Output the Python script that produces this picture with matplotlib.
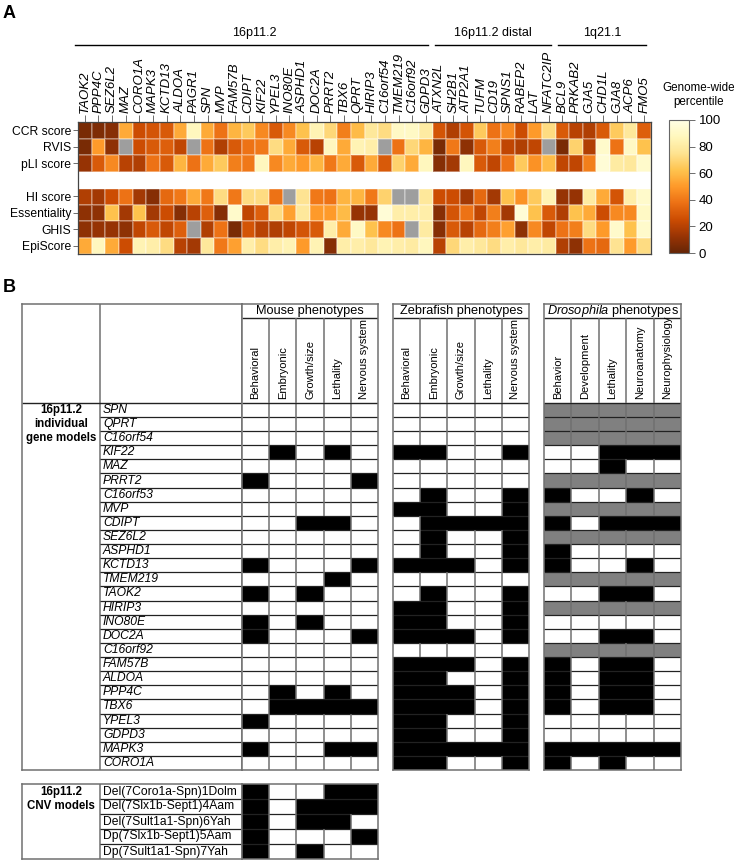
import numpy as np
import matplotlib.pyplot as plt
from matplotlib.colors import ListedColormap
from matplotlib.collections import LineCollection

plt.rcParams['font.family'] = ['Liberation Sans', 'DejaVu Sans']
plt.rcParams['mathtext.fontset'] = 'custom'
plt.rcParams['mathtext.it'] = 'Liberation Sans:italic'
plt.rcParams['mathtext.rm'] = 'Liberation Sans'

nan = np.nan

# ---------------- panel A data ----------------
genes_a = ['TAOK2', 'PPP4C', 'SEZ6L2', 'MAZ', 'CORO1A', 'MAPK3', 'KCTD13', 'ALDOA',
           'PAGR1', 'SPN', 'MVP', 'FAM57B', 'CDIPT', 'KIF22', 'YPEL3', 'INO80E',
           'ASPHD1', 'DOC2A', 'PRRT2', 'TBX6', 'QPRT', 'HIRIP3', 'C16orf54',
           'TMEM219', 'C16orf92', 'GDPD3',
           'ATXN2L', 'SH2B1', 'ATP2A1', 'TUFM', 'CD19', 'SPNS1', 'RABEP2', 'LAT',
           'NFATC2IP',
           'BCL9', 'PRKAB2', 'GJA5', 'CHD1L', 'GJA8', 'ACP6', 'FMO5']
region_names = ['16p11.2', '16p11.2 distal', '1q21.1']
region_sizes = [26, 9, 7]

rows_top = ['CCR score', 'RVIS', 'pLI score']
rows_bottom = ['HI score', 'Essentiality', 'GHIS', 'EpiScore']

ccr = [5, 6, 8, 55, 25, 28, 30, 55, 88, 55, 38, 58, 65, 45, 30, 45, 62, 85, 70, 42, 60,
       78, 72, 90, 90, 80, 28, 18, 28, 65, 38, 45, 25, 50, 72, 30, 20, 18, 30, 65, 78, 32]
rvis = [5, 50, 10, nan, 25, 30, 32, 22, nan, 38, 18, 30, 38, 40, 72, 55, 30, 20, 88, 55, 85,
        82, nan, 38, 70, 58, 5, 40, 10, 30, 42, 22, 18, 22, nan, 5, 68, 18, 92, 38, 90, 62]
pli = [12, 30, 45, 20, 18, 38, 30, 58, 38, 55, 65, 42, 40, 88, 45, 55, 50, 58, 40, 55, 30,
       55, 30, 68, 55, 88, 8, 15, 88, 30, 22, 38, 65, 48, 60, 22, 22, 42, 95, 80, 78, 92]
hi = [18, 15, 25, 38, 15, 8, 35, 40, 55, 40, 72, 40, 72, 72, 38, nan, 75, 40, 38, 58, 58,
      40, 68, nan, nan, 78, 25, 25, 15, 35, 15, 62, 48, 65, 85, 12, 12, 80, 55, 28, 82, 92]
ess = [10, 10, 62, 15, 62, 15, 25, 8, 20, 32, 8, 92, 22, 32, 72, 52, 78, 50, 50, 60, 12,
       12, 95, 82, 82, 82, 8, 28, 38, 22, 42, 15, 95, 62, 30, 18, 62, 55, 25, 45, 45, 90]
ghis = [10, 12, 12, 10, 22, 30, 22, 32, nan, 18, 38, 5, 28, 20, 18, 22, 28, 30, 82, 55, 90,
        62, 45, 38, nan, 80, 8, 30, 20, 35, 42, 52, 10, 45, 22, 38, 42, 72, 50, 92, 62, 92]
epi = [55, 88, 55, 25, 85, 82, 72, 20, 15, 78, 40, 52, 82, 72, 82, 85, 50, 85, 8, 82, 82,
       78, 85, 82, 80, 88, 20, 70, 82, 78, 72, 82, 78, 82, 80, 18, 10, 38, 35, 75, 50, 72]

# ---------------- panel B data ----------------
# 0 = no phenotype, 1 = phenotype, 2 = no model
genes_b = ['SPN', 'QPRT', 'C16orf54', 'KIF22', 'MAZ', 'PRRT2', 'C16orf53', 'MVP', 'CDIPT',
           'SEZ6L2', 'ASPHD1', 'KCTD13', 'TMEM219', 'TAOK2', 'HIRIP3', 'INO80E', 'DOC2A',
           'C16orf92', 'FAM57B', 'ALDOA', 'PPP4C', 'TBX6', 'YPEL3', 'GDPD3', 'MAPK3',
           'CORO1A']
mouse_cols = ['Behavioral', 'Embryonic', 'Growth/size', 'Lethality', 'Nervous system']
fish_cols = ['Behavioral', 'Embryonic', 'Growth/size', 'Lethality', 'Nervous system']
fly_cols = ['Behavior', 'Development', 'Lethality', 'Neuroanatomy', 'Neurophysiology']

mouse = [[0, 0, 0, 0, 0], [0, 0, 0, 0, 0], [0, 0, 0, 0, 0], [0, 1, 0, 1, 0],
         [0, 0, 0, 0, 0], [1, 0, 0, 0, 1], [0, 0, 0, 0, 0], [0, 0, 0, 0, 0],
         [0, 0, 1, 1, 0], [0, 0, 0, 0, 0], [0, 0, 0, 0, 0], [1, 0, 0, 0, 1],
         [0, 0, 0, 1, 0], [1, 0, 1, 0, 0], [0, 0, 0, 0, 0], [1, 0, 1, 0, 0],
         [1, 0, 0, 0, 1], [0, 0, 0, 0, 0], [0, 0, 0, 0, 0], [0, 0, 0, 0, 0],
         [0, 1, 0, 1, 0], [0, 1, 1, 1, 1], [1, 0, 0, 0, 0], [0, 0, 0, 0, 0],
         [1, 0, 0, 1, 1], [0, 0, 0, 0, 0]]
fish = [[0, 0, 0, 0, 0], [0, 0, 0, 0, 0], [0, 0, 0, 0, 0], [1, 1, 0, 0, 1],
        [0, 0, 0, 0, 0], [0, 0, 0, 0, 0], [0, 1, 0, 0, 1], [1, 1, 0, 0, 1],
        [0, 1, 1, 1, 1], [0, 1, 0, 0, 1], [0, 1, 0, 0, 1], [1, 1, 1, 0, 1],
        [0, 0, 0, 0, 0], [0, 1, 0, 0, 1], [1, 1, 0, 0, 1], [1, 1, 0, 0, 1],
        [1, 1, 1, 0, 1], [0, 0, 0, 0, 0], [1, 1, 1, 0, 1], [1, 1, 0, 0, 1],
        [1, 1, 1, 0, 1], [1, 1, 1, 0, 1], [1, 1, 0, 0, 1], [1, 1, 0, 0, 1],
        [1, 1, 1, 1, 1], [1, 1, 0, 0, 1]]
fly = [[2, 2, 2, 2, 2], [2, 2, 2, 2, 2], [2, 2, 2, 2, 2], [0, 0, 1, 1, 1],
       [0, 0, 1, 0, 0], [2, 2, 2, 2, 2], [1, 0, 0, 1, 0], [2, 2, 2, 2, 2],
       [1, 0, 1, 1, 1], [2, 2, 2, 2, 2], [1, 0, 0, 0, 0], [1, 0, 0, 1, 0],
       [2, 2, 2, 2, 2], [0, 0, 1, 1, 0], [2, 2, 2, 2, 2], [0, 0, 0, 0, 0],
       [0, 0, 1, 1, 0], [2, 2, 2, 2, 2], [1, 0, 1, 1, 0], [1, 0, 1, 1, 0],
       [1, 0, 1, 1, 0], [1, 0, 1, 1, 0], [0, 0, 0, 0, 0], [0, 0, 0, 0, 0],
       [1, 1, 1, 1, 1], [1, 0, 1, 0, 0]]

cnv_models = ['Del(7Coro1a-Spn)1Dolm', 'Del(7Slx1b-Sept1)4Aam', 'Del(7Sult1a1-Spn)6Yah',
              'Dp(7Slx1b-Sept1)5Aam', 'Dp(7Sult1a1-Spn)7Yah']
cnv_mouse = [[1, 0, 0, 1, 1], [1, 0, 1, 1, 1], [1, 0, 1, 1, 0], [1, 0, 0, 0, 1],
             [1, 0, 1, 0, 0]]

# ---------------- figure ----------------
W, H = 736, 861
fig = plt.figure(figsize=(W / 100, H / 100), dpi=100)


def px_axes(x, y, w, h):
    return fig.add_axes([x / W, 1 - (y + h) / H, w / W, h / H])


fig.text(3 / W, 1 - 5 / H, 'A', fontsize=13, fontweight='bold', va='top')
fig.text(3 / W, 1 - 279 / H, 'B', fontsize=13, fontweight='bold', va='top')

# heatmap
n = len(genes_a)
cmap = plt.get_cmap('YlOrBr_r').copy()
cmap.set_bad('#9e9e9e')
ax = px_axes(78, 122, 573, 132)
ax.set_facecolor('#9e9e9e')
top = np.ma.masked_invalid(np.array([ccr, rvis, pli], dtype=float))
bot = np.ma.masked_invalid(np.array([hi, ess, ghis, epi], dtype=float))
xe = np.arange(n + 1)
ax.pcolormesh(xe, np.arange(len(rows_top) + 1), top, cmap=cmap, vmin=0, vmax=100,
              edgecolors=(1, 1, 1, 0.25), linewidth=0.3)
mesh = ax.pcolormesh(xe, np.arange(len(rows_top) + 1, len(rows_top) + len(rows_bottom) + 2),
                     bot, cmap=cmap, vmin=0, vmax=100,
                     edgecolors=(1, 1, 1, 0.25), linewidth=0.3)
ax.axhspan(len(rows_top), len(rows_top) + 1, color='white', zorder=2)
ax.set_xlim(0, n)
ax.set_ylim(len(rows_top) + len(rows_bottom) + 1, 0)
ax.xaxis.tick_top()
ax.set_xticks(np.arange(n) + 0.5)
ax.set_xticklabels(genes_a, rotation=90, fontstyle='italic', fontsize=9.5)
yt = list(np.arange(len(rows_top)) + 0.5) + list(np.arange(len(rows_bottom)) + len(rows_top) + 1.5)
ax.set_yticks(yt)
ax.set_yticklabels(rows_top + rows_bottom, fontsize=8.7)
ax.tick_params(axis='x', length=5, width=0.6, color='#555555', pad=1.5)
ax.tick_params(axis='y', length=3.5, width=0.6, color='#555555', pad=1.5)
for s in ax.spines.values():
    s.set_color('#444444')
    s.set_linewidth(0.9)
    s.set_zorder(5)

# region brackets
axr = px_axes(78, 20, 573, 28)
axr.set_xlim(0, n)
axr.set_ylim(48, 20)
axr.axis('off')
start = 0
for name, size in zip(region_names, region_sizes):
    axr.plot([start + (-0.2 if start == 0 else 0.15), start + size - 0.35], [45, 45],
             color='black', lw=1.0, clip_on=False)
    axr.text(start + size / 2 - 0.1, 33, name, ha='center', va='center', fontsize=9)
    start += size

# colorbar
cax = px_axes(669, 120, 20, 133)
cb = fig.colorbar(mesh, cax=cax, ticks=[0, 20, 40, 60, 80, 100])
cb.outline.set_edgecolor('#666666')
cb.outline.set_linewidth(0.8)
cax.tick_params(labelsize=9.5, length=4, width=0.6, color='#555555', pad=3)
fig.text(699 / W, 1 - 95 / H, 'Genome-wide\npercentile', ha='center', va='center',
         fontsize=8.4, linespacing=1.3)

# ---------------- panel B ----------------
nb = len(genes_b)
hdr = 7
cell_cmap = ListedColormap(['white', 'black', '#808080'])
vcol = '#707070'
hcol = '#222222'


def style_frame(a):
    a.set_xticks([])
    a.set_yticks([])
    for s in a.spines.values():
        s.set_color(vcol)
        s.set_linewidth(1.1)


def pheno_block(a, data, cols, title, nrows, header=True):
    data = np.array(data)
    ncol = data.shape[1]
    a.pcolormesh(np.arange(ncol + 1), np.arange(nrows + 1), data, cmap=cell_cmap,
                 vmin=0, vmax=2)
    a.set_xlim(0, ncol)
    a.set_ylim(nrows, -hdr if header else 0)
    # horizontal row lines
    a.hlines(np.arange(1, nrows), 0, ncol, color=hcol, lw=0.9)
    # vertical lines, skipped inside black runs
    segs = []
    for r in range(nrows):
        for c in range(1, ncol):
            if not (data[r, c - 1] == 1 and data[r, c] == 1):
                segs.append([(c, r), (c, r + 1)])
    a.add_collection(LineCollection(segs, colors=vcol, linewidths=1.1))
    style_frame(a)
    if header:
        a.hlines([0], 0, ncol, color=hcol, lw=1.0)
        a.hlines([-hdr + 1], 0, ncol, color=hcol, lw=1.0)
        a.vlines(np.arange(1, ncol), -hdr + 1, 0, color=vcol, lw=1.1)
        a.text(ncol / 2, -hdr + 0.5, title, ha='center', va='center', fontsize=9.2)
        for i, c in enumerate(cols):
            a.text(i + 0.5, -0.25, c, rotation=90, ha='center', va='bottom', fontsize=8)


# left label block
axl = px_axes(22, 304, 220, 466)
axl.set_xlim(0, 220)
axl.set_ylim(nb, -hdr)
style_frame(axl)
axl.vlines([78], -hdr, nb, color=vcol, lw=1.1)
axl.hlines([0], 0, 220, color=hcol, lw=1.0)
axl.hlines(np.arange(1, nb), 78, 220, color=hcol, lw=0.9)
axl.text(39, 1.5, '16p11.2\nindividual\ngene models', ha='center', va='center',
         fontsize=8.3, fontweight='bold', linespacing=1.25)
for i, g in enumerate(genes_b):
    axl.text(81, i + 0.5, g, va='center', ha='left', fontsize=8.7, fontstyle='italic')

pheno_block(px_axes(242, 304, 136, 466), mouse, mouse_cols, 'Mouse phenotypes', nb)
pheno_block(px_axes(393, 304, 136, 466), fish, fish_cols, 'Zebrafish phenotypes', nb)
pheno_block(px_axes(544, 304, 137, 466), fly, fly_cols,
            r'$\mathit{Drosophila}$ phenotypes', nb)

# CNV models
nc = len(cnv_models)
axc = px_axes(22, 784, 220, 75)
axc.set_xlim(0, 220)
axc.set_ylim(nc, 0)
style_frame(axc)
axc.vlines([78], 0, nc, color=vcol, lw=1.1)
axc.hlines(np.arange(1, nc), 78, 220, color=hcol, lw=0.9)
axc.text(39, 1.0, '16p11.2\nCNV models', ha='center', va='center', fontsize=8.3,
         fontweight='bold', linespacing=1.25)
for i, g in enumerate(cnv_models):
    axc.text(81, i + 0.5, g, va='center', ha='left', fontsize=8.7)

pheno_block(px_axes(242, 784, 136, 75), cnv_mouse, mouse_cols, '', nc, header=False)

fig.savefig('out.png', dpi=100)
